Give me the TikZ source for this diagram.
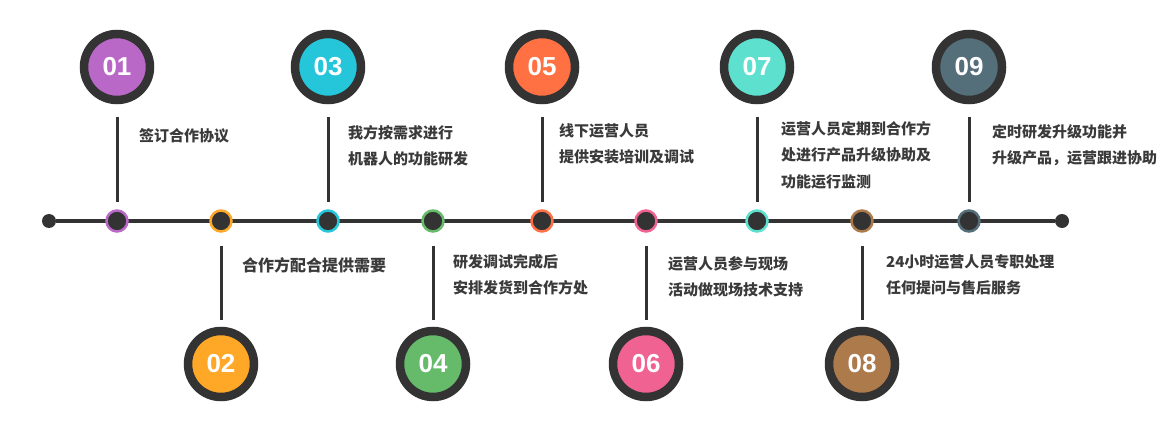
\documentclass[tikz,border=0pt]{standalone}
\usepackage{fontspec}
\setmainfont{Liberation Sans}
\newfontfamily\cjk{Noto Sans CJK SC}
\usetikzlibrary{positioning}
\definecolor{Ring}{HTML}{333333}
\definecolor{Ink}{HTML}{3A3A3A}
\definecolor{Purple}{HTML}{BA68C8}
\definecolor{Amber}{HTML}{FFA726}
\definecolor{Cyan}{HTML}{26C6DA}
\definecolor{Leaf}{HTML}{66BB6A}
\definecolor{Coral}{HTML}{FF7043}
\definecolor{Rose}{HTML}{F06292}
\definecolor{Aqua}{HTML}{5EE0CF}
\definecolor{Bronze}{HTML}{AD7A4B}
\definecolor{Slate}{HTML}{546E7A}

\begin{document}
\begin{tikzpicture}[x=1pt,y=-1pt,
  badge/.style={circle,draw=Ring,fill=#1,line width=8.5pt,minimum size=66pt,inner sep=0pt,text=white,font=\fontsize{26}{26}\selectfont\bfseries},
  marker/.style={circle,draw=#1,fill=Ring,line width=2.5pt,minimum size=21pt,inner sep=0pt},
  endcap/.style={circle,fill=Ring,minimum size=14pt,inner sep=0pt},
  axis/.style={draw=Ring,line width=3.5pt},
  stem/.style={draw=Ring,line width=3pt,shorten <=13pt,shorten >=7pt},
  desc/.style={anchor=north west,align=left,inner sep=0pt,text=Ink,font=\cjk\fontsize{15}{26.5}\selectfont\bfseries}
]
\useasboundingbox[fill=white] (0,0) rectangle (1166,425);
\node[endcap] (start) at (49,221) {};
\node[endcap] (end) at (1062,221) {};
\draw[axis] (start) -- (end);
\node[marker=Purple] (d01) at (117,221) {};
\node[marker=Amber] (d02) at (221,221) {};
\node[marker=Cyan] (d03) at (328,221) {};
\node[marker=Leaf] (d04) at (433,221) {};
\node[marker=Coral] (d05) at (542,221) {};
\node[marker=Rose] (d06) at (646,221) {};
\node[marker=Aqua] (d07) at (757,221) {};
\node[marker=Bronze] (d08) at (862,221) {};
\node[marker=Slate] (d09) at (969,221) {};
\node[badge=Purple] (n01) at (117,67) {01};
\node[badge=Amber] (n02) at (221,364) {02};
\node[badge=Cyan] (n03) at (328,67) {03};
\node[badge=Leaf] (n04) at (433,364) {04};
\node[badge=Coral] (n05) at (542,67) {05};
\node[badge=Rose] (n06) at (646,364) {06};
\node[badge=Aqua] (n07) at (757,67) {07};
\node[badge=Bronze] (n08) at (862,364) {08};
\node[badge=Slate] (n09) at (969,67) {09};
\draw[stem] (n01) -- (d01);
\draw[stem] (n03) -- (d03);
\draw[stem] (n05) -- (d05);
\draw[stem] (n07) -- (d07);
\draw[stem] (n09) -- (d09);
\draw[stem] (d02) -- (n02);
\draw[stem] (d04) -- (n04);
\draw[stem] (d06) -- (n06);
\draw[stem] (d08) -- (n08);
\node[desc] (t01) at (139,128) {签订合作协议};
\node[desc] (t03) at (348,125) {我方按需求进行\\机器人的功能研发};
\node[desc] (t05) at (559,123) {线下运营人员\\提供安装培训及调试};
\node[desc] (t07) at (781,121) {运营人员定期到合作方\\处进行产品升级协助及\\功能运行监测};
\node[desc] (t09) at (992,124) {定时研发升级功能并\\升级产品，运营跟进协助};
\node[desc,font=\cjk\fontsize{16}{26.5}\selectfont\bfseries] (t02) at (242,257) {合作方配合提供需要};
\node[desc] (t04) at (453,254) {研发调试完成后\\安排发货到合作方处};
\node[desc] (t06) at (668,256) {运营人员参与现场\\活动做现场技术支持};
\node[desc] (t08) at (886,254) {24小时运营人员专职处理\\任何提问与售后服务};
\end{tikzpicture}
\end{document}
